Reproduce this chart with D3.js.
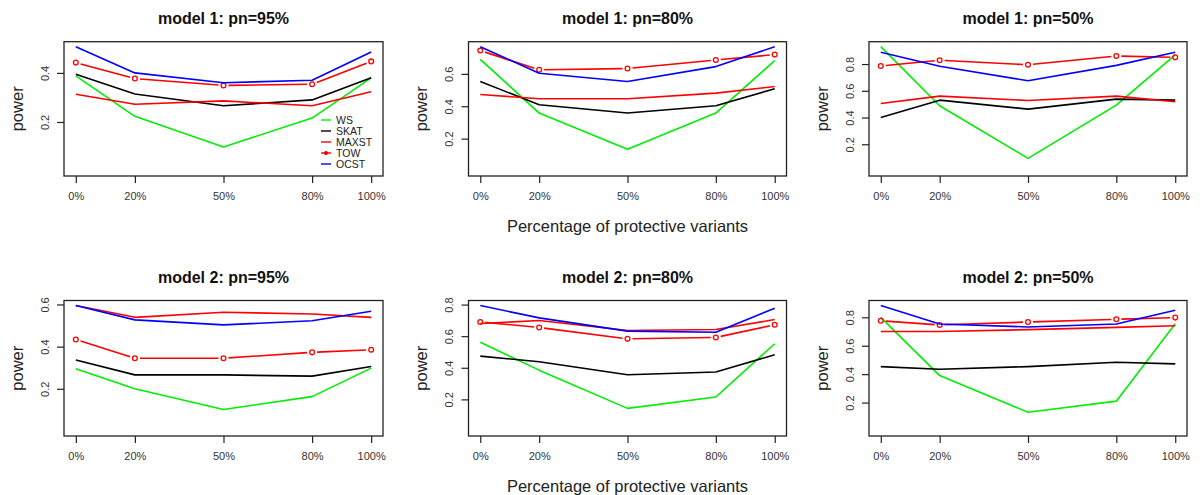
<!DOCTYPE html>
<html>
<head>
<meta charset="utf-8">
<script src="https://cdn.jsdelivr.net/npm/d3@7"></script>
<style>
  html, body { margin: 0; padding: 0; background: #fff; }
  svg { display: block; font-family: "Liberation Sans", Arial, Helvetica, sans-serif; }
</style>
</head>
<body>
<svg id="chart" width="1200" height="495"></svg>
<script>
// ---------------- DATA ----------------
const xPercents = [0, 20, 50, 80, 100];
const xTickLabels = ["0%", "20%", "50%", "80%", "100%"];
const yTickValues = [0.2, 0.4, 0.6, 0.8];
const panelTitles = [
  "model 1: pn=95%", "model 1: pn=80%", "model 1: pn=50%",
  "model 2: pn=95%", "model 2: pn=80%", "model 2: pn=50%"
];
const seriesNames = ["WS", "SKAT", "MAXST", "TOW", "OCST"];
const xAxisLabel = "Percentage of protective variants";
const yAxisLabel = "power";

// one row per panel (order as panelTitles), one value per x percent
const WS = [
  [0.388, 0.223, 0.098, 0.216, 0.380],
  [0.690, 0.358, 0.134, 0.358, 0.682],
  [0.930, 0.488, 0.095, 0.493, 0.868],
  [0.295, 0.200, 0.102, 0.163, 0.298],
  [0.562, 0.385, 0.143, 0.215, 0.552],
  [0.800, 0.390, 0.132, 0.210, 0.755]
];
const SKAT = [
  [0.395, 0.314, 0.266, 0.290, 0.380],
  [0.553, 0.409, 0.358, 0.403, 0.508],
  [0.400, 0.530, 0.463, 0.538, 0.530],
  [0.337, 0.266, 0.266, 0.260, 0.306],
  [0.474, 0.438, 0.356, 0.373, 0.482],
  [0.453, 0.434, 0.453, 0.484, 0.472]
];
const MAXST = [
  [0.313, 0.272, 0.286, 0.266, 0.323],
  [0.473, 0.446, 0.446, 0.481, 0.522],
  [0.505, 0.560, 0.528, 0.560, 0.518],
  [0.595, 0.539, 0.563, 0.555, 0.539],
  [0.680, 0.699, 0.636, 0.642, 0.705],
  [0.700, 0.700, 0.713, 0.729, 0.741]
];
const TOW = [
  [0.442, 0.377, 0.349, 0.354, 0.447],
  [0.744, 0.625, 0.633, 0.686, 0.719],
  [0.785, 0.828, 0.795, 0.860, 0.850],
  [0.434, 0.345, 0.345, 0.373, 0.385],
  [0.690, 0.655, 0.583, 0.592, 0.672],
  [0.776, 0.746, 0.767, 0.786, 0.798]
];
const OCST = [
  [0.507, 0.400, 0.360, 0.370, 0.485],
  [0.768, 0.604, 0.553, 0.645, 0.768],
  [0.888, 0.783, 0.675, 0.790, 0.888],
  [0.595, 0.527, 0.503, 0.523, 0.568],
  [0.794, 0.716, 0.632, 0.625, 0.777],
  [0.883, 0.753, 0.732, 0.753, 0.850]
];
const seriesData = [WS, SKAT, MAXST, TOW, OCST];
const seriesColors = ["#00ee00", "#000000", "#ff0000", "#ff0000", "#0000ff"];
const seriesPoints = [false, false, false, true, false];

// ---------------- LAYOUT ----------------
const cols = [[64, 383], [468.5, 786.5], [869, 1187]];
const rows = [[41.7, 176], [300.5, 436]];
const svg = d3.select("#chart");
const tickFont = 11;

panelTitles.forEach((title, p) => {
  const [x0, x1] = cols[p % 3];
  const [y0, y1] = rows[Math.floor(p / 3)];
  const g = svg.append("g");

  const x = d3.scaleLinear().domain([-4, 104]).range([x0, x1]);
  const ymax = d3.max(seriesData, s => d3.max(s[p]));
  const pad = 0.04 * ymax;
  const y = d3.scaleLinear().domain([0 - pad, ymax + pad]).range([y1, y0]);

  // series
  seriesData.forEach((s, k) => {
    const vals = s[p];
    const pts = vals.map((v, i) => [x(xPercents[i]), y(v)]);
    if (!seriesPoints[k]) {
      g.append("path")
        .attr("d", d3.line()(pts))
        .attr("fill", "none")
        .attr("stroke", seriesColors[k])
        .attr("stroke-width", 1.6)
        .attr("stroke-linejoin", "round");
    } else {
      const gap = 5;
      for (let i = 0; i < pts.length - 1; i++) {
        const [ax, ay] = pts[i], [bx, by] = pts[i + 1];
        const dx = bx - ax, dy = by - ay, L = Math.hypot(dx, dy);
        const ux = dx / L, uy = dy / L;
        g.append("line")
          .attr("x1", ax + ux * gap).attr("y1", ay + uy * gap)
          .attr("x2", bx - ux * gap).attr("y2", by - uy * gap)
          .attr("stroke", seriesColors[k]).attr("stroke-width", 1.6);
      }
      g.selectAll(null).data(vals).enter().append("circle")
        .attr("cx", (v, i) => x(xPercents[i]))
        .attr("cy", v => y(v))
        .attr("r", 2.4)
        .attr("fill", "none")
        .attr("stroke", seriesColors[k])
        .attr("stroke-width", 1.3);
    }
  });

  // box
  g.append("rect")
    .attr("x", x0).attr("y", y0)
    .attr("width", x1 - x0).attr("height", y1 - y0)
    .attr("fill", "none").attr("stroke", "#222").attr("stroke-width", 1.3);

  // x axis
  const xAxis = d3.axisBottom(x)
    .tickValues(xPercents)
    .tickFormat((d, i) => xTickLabels[i])
    .tickSizeOuter(0).tickSizeInner(7).tickPadding(9);
  const xg = g.append("g").attr("transform", `translate(0,${y1})`).call(xAxis);
  xg.select(".domain").remove();
  xg.selectAll("line").attr("stroke", "#222").attr("stroke-width", 1.2);
  xg.selectAll("text").attr("font-size", tickFont).attr("fill", "#333")
    .attr("font-family", "Liberation Sans, Arial, sans-serif");

  // y axis
  const ticks = yTickValues.filter(v => v >= y.domain()[0] && v <= y.domain()[1]);
  const yAxis = d3.axisLeft(y)
    .tickValues(ticks)
    .tickFormat(d3.format(".1f"))
    .tickSizeOuter(0).tickSizeInner(7);
  const yg = g.append("g").attr("transform", `translate(${x0},0)`).call(yAxis);
  yg.select(".domain").remove();
  yg.selectAll("line").attr("stroke", "#222").attr("stroke-width", 1.2);
  yg.selectAll("text")
    .attr("font-size", tickFont).attr("fill", "#333")
    .attr("font-family", "Liberation Sans, Arial, sans-serif")
    .attr("text-anchor", "middle")
    .attr("x", null).attr("dy", null)
    .attr("transform", "translate(-19,0) rotate(-90)")
    .attr("dy", "0.35em");

  // title
  g.append("text")
    .attr("x", (x0 + x1) / 2).attr("y", y0 - 18)
    .attr("text-anchor", "middle")
    .attr("font-weight", "bold").attr("font-size", 16)
    .attr("fill", "#111")
    .text(title);

  // y label
  g.append("text")
    .attr("transform", `translate(${x0 - 47},${(y0 + y1) / 2}) rotate(-90)`)
    .attr("text-anchor", "middle").attr("dy", "0.35em")
    .attr("font-size", 16.5).attr("fill", "#222")
    .text(yAxisLabel);

  // x label on middle column
  if (p % 3 === 1) {
    g.append("text")
      .attr("x", (x0 + x1) / 2).attr("y", y1 + 56)
      .attr("text-anchor", "middle")
      .attr("font-size", 16.5).attr("fill", "#222")
      .text(xAxisLabel);
  }

  // legend in first panel
  if (p === 0) {
    const lg = g.append("g");
    seriesNames.forEach((name, k) => {
      const ly = 120 + k * 11;
      lg.append("line")
        .attr("x1", 321).attr("x2", 331).attr("y1", ly).attr("y2", ly)
        .attr("stroke", seriesColors[k]).attr("stroke-width", 1.4);
      if (seriesPoints[k]) {
        lg.append("circle").attr("cx", 326).attr("cy", ly).attr("r", 1.6)
          .attr("fill", seriesColors[k]).attr("stroke", seriesColors[k]).attr("stroke-width", 1);
      }
      lg.append("text")
        .attr("x", 336).attr("y", ly).attr("dy", "0.35em")
        .attr("font-size", 10.5).attr("fill", "#222")
        .text(name);
    });
  }
});
</script>
</body>
</html>
